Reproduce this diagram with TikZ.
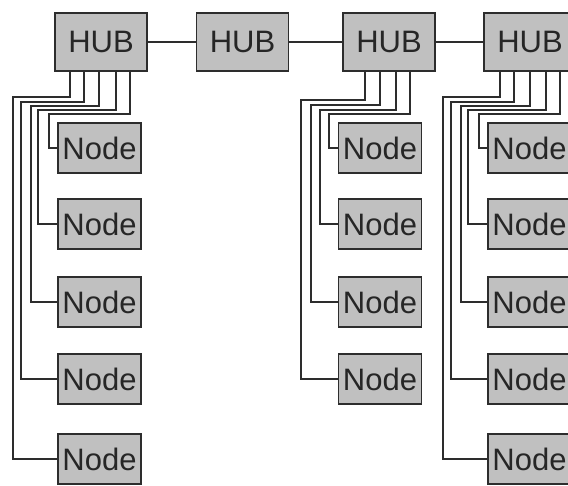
\documentclass[tikz,border=0pt]{standalone}
\usepackage{fontspec}
\setmainfont{Liberation Sans}
\usetikzlibrary{positioning}
\definecolor{boxgray}{RGB}{192,192,192}
\definecolor{wire}{RGB}{45,45,45}
\tikzset{every path/.style={wire,line width=1.6pt}, every node/.style={inner sep=0pt}}
\tikzset{hub/.style={draw=wire,fill=boxgray,minimum width=92,minimum height=58,text=black!85,font=\fontsize{31}{36}\selectfont},
         leaf/.style={draw=wire,fill=boxgray,minimum width=83,minimum height=50,text=black!85,font=\fontsize{31}{36}\selectfont}}

\begin{document}
\begin{tikzpicture}[x=1pt,y=-1pt]
     \useasboundingbox (0,0) rectangle (568,485);
     % hubs
     \node[hub] (h1) at (101,42) {HUB};
     \node[hub] (h2) at (242.5,42) {HUB};
     \node[hub] (h3) at (389,42) {HUB};
     \node[hub] (h4) at (530,42) {HUB};
     \draw (h1) -- (h2);
     \draw (h2) -- (h3);
     \draw (h3) -- (h4);
     % nodes
     \foreach \r/\y in {1/148,2/224,3/302,4/379,5/459} {
      \node[leaf] (a\r) at (99.5,\y) {Node};
      \node[leaf] (d\r) at (529.5,\y) {Node};
     }
     \foreach \r/\y in {1/148,2/224,3/302,4/379} {
      \node[leaf] (c\r) at (380,\y) {Node};
     }
     % wiring
     \foreach \dx/\by/\lx/\n in {16/97/13/5,30/102/21/4,45/106/31/3,62/110/38/2,76/114/49/1} {
      \draw ([xshift=\dx]h1.south west) |- (\lx,\by) |- (a\n.west);
     }
     \foreach \dx/\by/\lx/\n in {23/100/301/4,38/105/311/3,54/110/320/2,68/114/329/1} {
      \draw ([xshift=\dx]h3.south west) |- (\lx,\by) |- (c\n.west);
     }
     \foreach \dx/\by/\lx/\n in {17/97/443/5,31/102/451/4,47/106/461/3,63/110/468/2,77/114/479/1} {
      \draw ([xshift=\dx]h4.south west) |- (\lx,\by) |- (d\n.west);
     }
    \end{tikzpicture}
\end{document}
